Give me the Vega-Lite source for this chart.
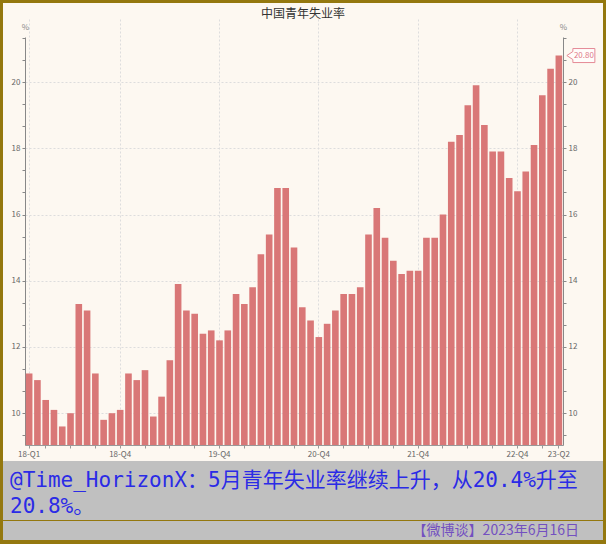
{
  "$schema": "https://vega.github.io/schema/vega-lite/v6.json",
  "background": "#94780F",
  "padding": {"left": 3, "top": 3, "right": 3, "bottom": 4},
  "autosize": {"type": "pad"},
  "spacing": 0,
  "config": {
    "view": {"stroke": null},
    "font": "Noto Sans CJK SC",
    "axis": {"labelFont": "Noto Sans CJK SC", "titleFont": "Noto Sans CJK SC"}
  },
  "datasets": {
    "rates": [
      {"month": "2018-01", "rate": 11.2}, {"month": "2018-02", "rate": 11.0}, {"month": "2018-03", "rate": 10.4},
      {"month": "2018-04", "rate": 10.1}, {"month": "2018-05", "rate": 9.6}, {"month": "2018-06", "rate": 10.0},
      {"month": "2018-07", "rate": 13.3}, {"month": "2018-08", "rate": 13.1}, {"month": "2018-09", "rate": 11.2},
      {"month": "2018-10", "rate": 9.8}, {"month": "2018-11", "rate": 10.0}, {"month": "2018-12", "rate": 10.1},
      {"month": "2019-01", "rate": 11.2}, {"month": "2019-02", "rate": 11.0}, {"month": "2019-03", "rate": 11.3},
      {"month": "2019-04", "rate": 9.9}, {"month": "2019-05", "rate": 10.5}, {"month": "2019-06", "rate": 11.6},
      {"month": "2019-07", "rate": 13.9}, {"month": "2019-08", "rate": 13.1}, {"month": "2019-09", "rate": 13.0},
      {"month": "2019-10", "rate": 12.4}, {"month": "2019-11", "rate": 12.5}, {"month": "2019-12", "rate": 12.2},
      {"month": "2020-01", "rate": 12.5}, {"month": "2020-02", "rate": 13.6}, {"month": "2020-03", "rate": 13.3},
      {"month": "2020-04", "rate": 13.8}, {"month": "2020-05", "rate": 14.8}, {"month": "2020-06", "rate": 15.4},
      {"month": "2020-07", "rate": 16.8}, {"month": "2020-08", "rate": 16.8}, {"month": "2020-09", "rate": 15.0},
      {"month": "2020-10", "rate": 13.2}, {"month": "2020-11", "rate": 12.8}, {"month": "2020-12", "rate": 12.3},
      {"month": "2021-01", "rate": 12.7}, {"month": "2021-02", "rate": 13.1}, {"month": "2021-03", "rate": 13.6},
      {"month": "2021-04", "rate": 13.6}, {"month": "2021-05", "rate": 13.8}, {"month": "2021-06", "rate": 15.4},
      {"month": "2021-07", "rate": 16.2}, {"month": "2021-08", "rate": 15.3}, {"month": "2021-09", "rate": 14.6},
      {"month": "2021-10", "rate": 14.2}, {"month": "2021-11", "rate": 14.3}, {"month": "2021-12", "rate": 14.3},
      {"month": "2022-01", "rate": 15.3}, {"month": "2022-02", "rate": 15.3}, {"month": "2022-03", "rate": 16.0},
      {"month": "2022-04", "rate": 18.2}, {"month": "2022-05", "rate": 18.4}, {"month": "2022-06", "rate": 19.3},
      {"month": "2022-07", "rate": 19.9}, {"month": "2022-08", "rate": 18.7}, {"month": "2022-09", "rate": 17.9},
      {"month": "2022-10", "rate": 17.9}, {"month": "2022-11", "rate": 17.1}, {"month": "2022-12", "rate": 16.7},
      {"month": "2023-01", "rate": 17.3}, {"month": "2023-02", "rate": 18.1}, {"month": "2023-03", "rate": 19.6},
      {"month": "2023-04", "rate": 20.4}, {"month": "2023-05", "rate": 20.8}
    ],
    "heading": [
      {"text": "中国青年失业率"}
    ],
    "caption": [
      {"line": 1, "text": "@Time_HorizonX：5月青年失业率继续上升，从20.4%升至"},
      {"line": 2, "text": "20.8%。"}
    ],
    "source": [
      {"text": "【微博谈】2023年6月16日"}
    ]
  },
  "vconcat": [
    {
      "width": 600,
      "height": 458,
      "view": {"fill": "#FDF8F1", "stroke": null},
      "layer": [
        {
          "data": {"name": "rates"},
          "layer": [
            {
              "mark": {"type": "bar", "color": "#D97777"},
              "encoding": {
                "x": {
                  "field": "month",
                  "type": "ordinal",
                  "scale": {"range": [22, 560], "paddingInner": 0.2, "paddingOuter": 0.1},
                  "axis": {
                    "title": null,
                    "orient": "bottom",
                    "offset": -16,
                    "bandPosition": 0.5,
                    "values": ["2018-01", "2018-03", "2018-06", "2018-09", "2018-12", "2019-03", "2019-06", "2019-09", "2019-12", "2020-03", "2020-06", "2020-09", "2020-12", "2021-03", "2021-06", "2021-09", "2021-12", "2022-03", "2022-06", "2022-09", "2022-12", "2023-03", "2023-05"],
                    "labelExpr": "datum.value == '2018-01' ? '18-Q1' : datum.value == '2023-05' ? '23-Q2' : substring(datum.value, 5, 7) == '12' ? substring(datum.value, 2, 4) + '-Q4' : ''",
                    "labelAngle": 0,
                    "labelOverlap": false,
                    "labelFontSize": 8,
                    "labelColor": "#666666",
                    "labelPadding": 2,
                    "tickSize": 3,
                    "tickColor": "#999999",
                    "domainColor": "#999999",
                    "grid": true,
                    "gridColor": "#DDDDDD",
                    "gridDash": [2, 2],
                    "gridOpacity": {"condition": {"test": "datum.value == '2018-01' || substring(datum.value, 5, 7) == '12'", "value": 1}, "value": 0}
                  }
                },
                "y": {
                  "field": "rate",
                  "type": "quantitative",
                  "scale": {"domain": [9.04, 21.36], "range": [442, 34], "nice": false, "zero": false},
                  "axis": {
                    "orient": "left",
                    "offset": -22,
                    "values": [9.3333, 10, 10.6667, 11.3333, 12, 12.6667, 13.3333, 14, 14.6667, 15.3333, 16, 16.6667, 17.3333, 18, 18.6667, 19.3333, 20, 20.6667, 21.3333],
                    "labelExpr": "abs(datum.value - round(datum.value / 2) * 2) < 0.01 ? format(datum.value, 'd') : ''",
                    "labelFontSize": 8,
                    "labelColor": "#666666",
                    "labelPadding": 2,
                    "tickSize": 3,
                    "tickColor": "#888888",
                    "domainColor": "#888888",
                    "grid": true,
                    "gridColor": "#DDDDDD",
                    "gridDash": [2, 2],
                    "gridOpacity": {"condition": {"test": "abs(datum.value - round(datum.value / 2) * 2) < 0.01", "value": 1}, "value": 0},
                    "title": "%",
                    "titleAngle": 0,
                    "titleX": 0,
                    "titleY": 24,
                    "titleAlign": "center",
                    "titleBaseline": "middle",
                    "titleFontSize": 8,
                    "titleFontWeight": "normal",
                    "titleColor": "#888888"
                  }
                },
                "y2": {"datum": 9.04}
              }
            },
            {
              "transform": [{"filter": "datum.month == '2023-05'"}],
              "mark": {
                "type": "point",
                "shape": "M 0.444 0 L 0.778 -0.222 L 0.778 -0.389 L 2 -0.389 L 2 0.389 L 0.778 0.389 L 0.778 0.222 Z",
                "size": 1296,
                "filled": true,
                "fill": "#FFFDFB",
                "stroke": "#E58A96",
                "strokeWidth": 1,
                "opacity": 1
              },
              "encoding": {
                "x": {"field": "month", "type": "ordinal"},
                "y": {
                  "field": "rate",
                  "type": "quantitative",
                  "axis": {
                    "orient": "right",
                    "offset": -40,
                    "values": [9.3333, 10, 10.6667, 11.3333, 12, 12.6667, 13.3333, 14, 14.6667, 15.3333, 16, 16.6667, 17.3333, 18, 18.6667, 19.3333, 20, 20.6667, 21.3333],
                    "labelExpr": "abs(datum.value - round(datum.value / 2) * 2) < 0.01 ? format(datum.value, 'd') : ''",
                    "labelFontSize": 8,
                    "labelColor": "#666666",
                    "labelPadding": 2,
                    "tickSize": 3,
                    "tickColor": "#888888",
                    "domainColor": "#888888",
                    "grid": false,
                    "title": "%",
                    "titleAngle": 0,
                    "titleX": 0,
                    "titleY": 24,
                    "titleAlign": "center",
                    "titleBaseline": "middle",
                    "titleFontSize": 8,
                    "titleFontWeight": "normal",
                    "titleColor": "#888888"
                  }
                }
              }
            },
            {
              "transform": [{"filter": "datum.month == '2023-05'"}],
              "mark": {"type": "text", "dx": 25, "align": "center", "baseline": "middle", "fontSize": 8, "color": "#E07A88"},
              "encoding": {
                "x": {"field": "month", "type": "ordinal"},
                "y": {"field": "rate", "type": "quantitative", "axis": null},
                "text": {"field": "rate", "type": "quantitative", "format": ".2f"}
              }
            }
          ],
          "resolve": {"axis": {"y": "independent"}}
        },
        {
          "data": {"name": "heading"},
          "mark": {"type": "text", "align": "center", "baseline": "middle", "fontSize": 12, "color": "#333333"},
          "encoding": {
            "x": {"datum": 0.5, "type": "quantitative", "scale": {"domain": [0, 1], "range": [0, 600]}, "axis": null},
            "y": {"datum": 0.5, "type": "quantitative", "scale": {"domain": [0, 1], "range": [22, 0]}, "axis": null},
            "text": {"field": "text"}
          }
        }
      ],
      "resolve": {"scale": {"x": "independent", "y": "independent"}}
    },
    {
      "spacing": 1,
      "vconcat": [
        {
          "width": 600,
          "height": 59,
          "view": {"fill": "#C0C0C0", "stroke": null},
          "data": {"name": "caption"},
          "mark": {"type": "text", "align": "left", "baseline": "middle", "font": "DejaVu Sans Mono, Noto Sans CJK SC", "fontSize": 21, "color": "#2B2BE6"},
          "encoding": {
            "x": {"datum": 0, "type": "quantitative", "scale": {"domain": [0, 1], "range": [7, 600]}, "axis": null},
            "y": {"field": "line", "type": "ordinal", "scale": {"type": "point", "range": [20, 46], "padding": 0}, "axis": null},
            "text": {"field": "text"}
          }
        },
        {
          "width": 600,
          "height": 19,
          "view": {"fill": "#C0C0C0", "stroke": null},
          "data": {"name": "source"},
          "mark": {"type": "text", "align": "right", "baseline": "middle", "fontSize": 14, "color": "#7350C0"},
          "encoding": {
            "x": {"datum": 1, "type": "quantitative", "scale": {"domain": [0, 1], "range": [0, 576]}, "axis": null},
            "text": {"field": "text"}
          }
        }
      ]
    }
  ]
}
